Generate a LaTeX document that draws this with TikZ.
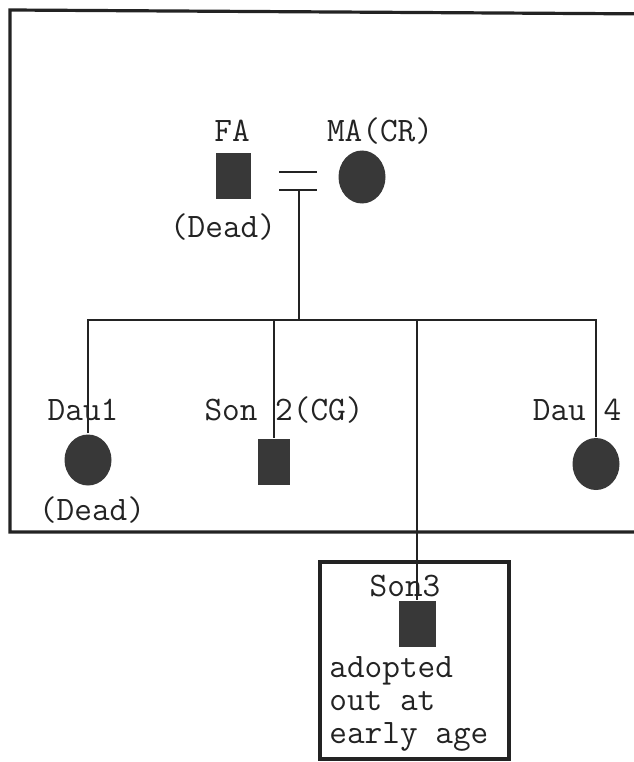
\documentclass[tikz,border=0pt]{standalone}
\usepackage{fontspec}
\usetikzlibrary{positioning}
\usetikzlibrary{shapes.geometric}
\definecolor{ped-ink}{HTML}{232323}
\definecolor{ped-fill}{HTML}{383838}

\begin{document}
\begin{tikzpicture}[
    x=1pt, y=-1pt,
    font=\ttfamily\fontsize{34.3}{33}\selectfont,
    line width=2.8pt
  ]

  \tikzset{
    male/.style={rectangle, fill=ped-fill, minimum width=35pt, minimum height=45pt, inner sep=0pt},
    female/.style={ellipse, fill=ped-fill, minimum width=47pt, minimum height=51pt, inner sep=0pt},
    tag/.style={anchor=base, inner sep=0pt, text=ped-ink},
    tie/.style={draw=ped-ink, line width=2.8pt},
    frame/.style={draw=ped-ink, line width=3.2pt}
  }

  \useasboundingbox (0,0) rectangle (633,762);

  % household box and adoption box
  \draw[frame] (660,532) -- (10,532) -- (10,10) -- (660,14);
  \draw[frame] (320,562) rectangle (509,759);

  % labels first, so the lines run over them
  \node (falbl)    [tag] at (232,142) {FA};
  \node (malbl)    [tag] at (380,142) {MA(CR)};
  \node (fadead)   [tag] at (223,237) {(Dead)};
  \node (dau1lbl)  [tag] at (83,420) {Dau1};
  \node (dau1dead) [tag] at (92,520) {(Dead)};
  \node (son2lbl)  [tag] at (284,420) {Son 2(CG)};
  \node (dau4lbl)  [tag] at (577,420) {Dau 4};
  \node (son3lbl)  [tag] at (405,596) {Son3};
  \node (son3note) [anchor=north west, align=left, inner sep=0pt, text=ped-ink] at (328,655) {adopted\\out at\\early age};

  % parents
  \node (fa) [male] at (233,176) {};
  \node (ma) [female, minimum height=53pt] at (362,177) {};

  % children
  \node (dau1) [female] at (88,460) {};
  \node (son2) [male, minimum width=32pt, minimum height=46pt] at (274,462) {};
  \node (son3) [male, minimum width=37pt, minimum height=46pt] at (417,624) {};
  \node (dau4) [female, minimum height=52pt] at (596,464) {};

  % marriage and descent
  \coordinate (wedA) at (279,172);
  \coordinate (wedB) at (317,172);
  \coordinate (wedC) at (279,190);
  \coordinate (wedD) at (317,190);
  \coordinate (mar) at (299,190);
  \coordinate (sib) at (299,320);

  \draw[tie] (wedA) -- (wedB);
  \draw[tie] (wedC) -- (wedD);
  \draw[tie] (mar) -- (sib);

  % sibship line and drops
  \draw[tie] (dau1.north) -- (dau1.north |- sib) -- (dau4.north |- sib) -- (dau4.north);
  \draw[tie] (son2.north |- sib) -- (son2.north);
  \draw[tie] (son3.north |- sib) -- (son3.north);

\end{tikzpicture}
\end{document}
